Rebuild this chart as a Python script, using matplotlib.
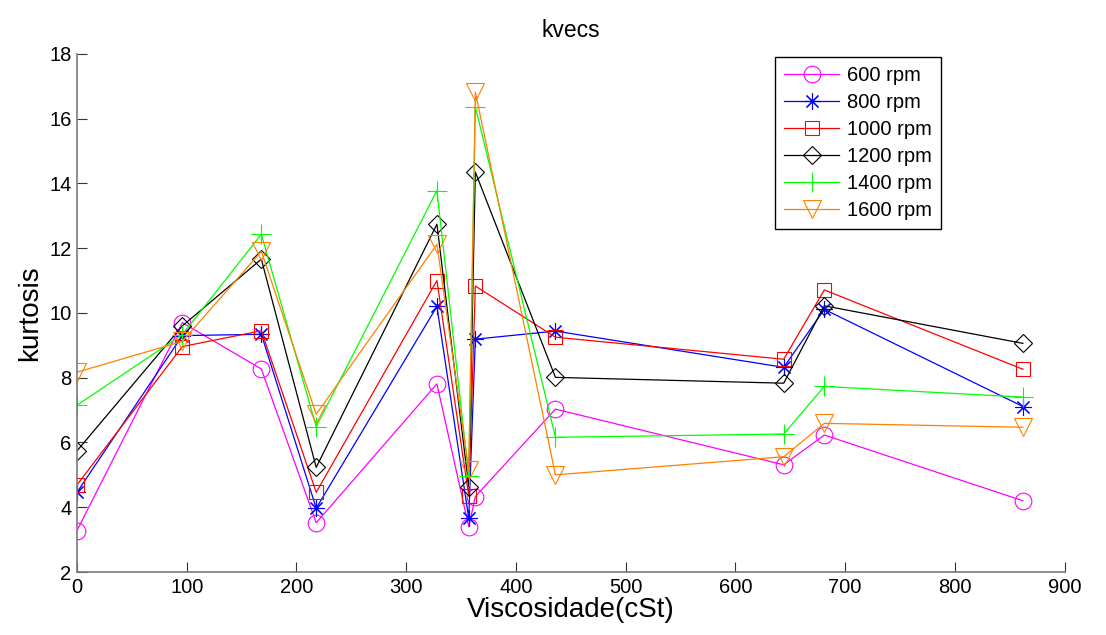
import matplotlib.pyplot as plt
import numpy as np

plt.rcParams['font.family'] = ['Liberation Sans', 'DejaVu Sans']

# viscosity (cSt) for every measurement
visc = [0, 96, 168, 218, 328, 357, 363, 436, 644, 681, 862]

k600 = [3.28, 9.70, 8.27, 3.52, 7.81, 3.40, 4.33, 7.03, 5.31, 6.23, 4.20]
k800 = [4.46, 9.30, 9.34, 3.97, 10.20, 3.66, 9.19, 9.44, 8.32, 10.11, 7.11]
k1000 = [4.69, 8.96, 9.45, 4.46, 11.00, 4.35, 10.83, 9.25, 8.57, 10.71, 8.26]
k1200 = [5.74, 9.60, 11.66, 5.23, 12.74, 4.64, 14.35, 8.01, 7.83, 10.22, 9.06]
k1400 = [7.15, 9.33, 12.43, 6.49, 13.78, 4.97, 16.37, 6.16, 6.26, 7.73, 7.40]
k1600 = [8.17, 9.12, 11.90, 6.87, 12.12, 5.15, 16.82, 5.00, 5.56, 6.59, 6.47]

labels = ['600 rpm', '800 rpm', '1000 rpm', '1200 rpm', '1400 rpm', '1600 rpm']
series = [k600, k800, k1000, k1200, k1400, k1600]
colors = ['#ff00ff', '#0000ff', '#ff0000', '#000000', '#00ff00', '#ff8000']
# matlab-like asterisk: plus and cross overlaid
markers = ['o', (8, 2, 0), 's', 'D', '+', 'v']
msizes = [12, 12, 10, 9.5, 14, 13]

fig = plt.figure(figsize=(11.06, 6.35), dpi=100)
ax = fig.add_axes([0.0696, 0.0992, 0.893, 0.816])

for y, lab, c, m, ms in zip(series, labels, colors, markers, msizes):
    ax.plot(visc, y, color=c, marker=m, markersize=ms, markerfacecolor='none',
            markeredgecolor=c, markeredgewidth=0.8, linewidth=0.9, label=lab)

ax.set_xlim(0, 900)
ax.set_ylim(2, 18)
ax.set_xticks(np.arange(0, 901, 100))
ax.set_yticks(np.arange(2, 19, 2))

ax.spines['top'].set_visible(False)
ax.spines['right'].set_visible(False)
ax.spines['left'].set_color('#7a7a7a')
ax.spines['bottom'].set_color('#7a7a7a')
ax.spines['left'].set_linewidth(1.2)
ax.spines['bottom'].set_linewidth(1.2)
ax.tick_params(direction='in', length=7, width=0.8, labelsize=14.5, color='#333333', pad=4)

ax.set_title('kvecs', fontsize=16.5, pad=12)
ax.set_xlabel('Viscosidade(cSt)', fontsize=20, labelpad=0)
ax.set_ylabel('kurtosis', fontsize=20, labelpad=4)

leg = ax.legend(loc='upper left', bbox_to_anchor=(0.707, 0.994), fontsize=14.5,
                numpoints=1, handlelength=2.7, handletextpad=0.4,
                labelspacing=0.4, borderpad=0.45, borderaxespad=0,
                fancybox=False, framealpha=1)
leg.get_frame().set_edgecolor('black')
leg.get_frame().set_linewidth(1.0)

fig.savefig('out.png', dpi=100)
